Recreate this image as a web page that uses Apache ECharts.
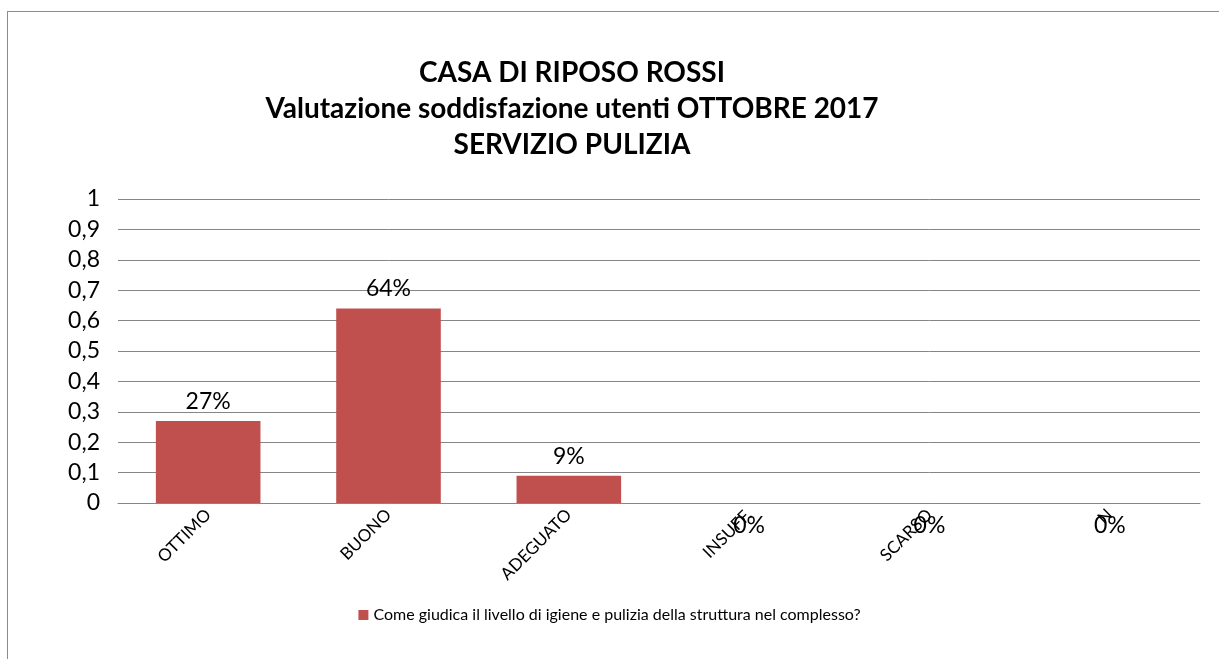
<!DOCTYPE html>
<html>
<head>
<meta charset="utf-8">
<script src="https://cdn.jsdelivr.net/npm/echarts@6/dist/echarts.min.js"></script>
<style>
  html, body { margin: 0; padding: 0; background: #fff; }
  #frame { position: absolute; left: 7px; top: 11px; width: 1230px; height: 660px; border: 1px solid #8c8c8c; }
  #main { position: absolute; left: 0; top: 0; width: 1219px; height: 659px; }
</style>
</head>
<body>
<div id="frame"></div>
<div id="main"></div>
<script>
var categories = ['OTTIMO', 'BUONO', 'ADEGUATO', 'INSUFF.', 'SCARSO', 'N'];
var values = [0.27, 0.64, 0.09, 0, 0, 0];
var seriesName = 'Come giudica il livello di igiene e pulizia della struttura nel complesso?';
var titleLines = ['CASA DI RIPOSO ROSSI', 'Valutazione soddisfazione utenti OTTOBRE 2017', 'SERVIZIO PULIZIA'];

var font = 'Lato, "Open Sans", sans-serif';

// zero bars: Excel puts the label under the axis
var barData = values.map(function (v) {
  if (v === 0) {
    return { value: v, label: { position: 'bottom', distance: 11 } };
  }
  return v;
});

var option = {
  animation: false,
  textStyle: { fontFamily: font },
  title: {
    text: titleLines.join('\n'),
    left: 567,
    textAlign: 'center',
    top: 50,
    textStyle: { fontSize: 28, fontWeight: 'bold', color: '#000', lineHeight: 36, fontFamily: font }
  },
  legend: {
    bottom: 31,
    left: 'center',
    itemWidth: 10,
    itemHeight: 10,
    itemGap: 8,
    icon: 'rect',
    textStyle: { fontSize: 16, color: '#000', fontFamily: font },
    data: [seriesName]
  },
  grid: { left: 118, right: 19, top: 199, bottom: 156 },
  xAxis: {
    type: 'category',
    data: categories,
    axisLine: { lineStyle: { color: '#868686', width: 1 } },
    axisTick: { show: false },
    axisLabel: { rotate: 45, fontSize: 17, color: '#000', margin: 9, interval: 0, fontFamily: font }
  },
  yAxis: {
    type: 'value',
    min: 0,
    max: 1,
    interval: 0.1,
    axisLine: { show: false },
    axisTick: { show: false },
    splitLine: { lineStyle: { color: '#868686', width: 1 } },
    axisLabel: {
      fontSize: 23, color: '#000', margin: 18, fontFamily: font,
      formatter: function (v) { return String(Math.round(v * 10) / 10).replace('.', ','); }
    }
  },
  series: [{
    name: seriesName,
    type: 'bar',
    data: barData,
    barWidth: '58%',
    itemStyle: { color: '#C0504D' },
    label: {
      show: true,
      position: 'top',
      distance: 8,
      fontSize: 23,
      color: '#000',
      fontFamily: font,
      formatter: function (p) { return Math.round(p.value * 100) + '%'; }
    }
  }]
};

var myChart = echarts.init(document.getElementById('main'));
myChart.setOption(option);
</script>
</body>
</html>
